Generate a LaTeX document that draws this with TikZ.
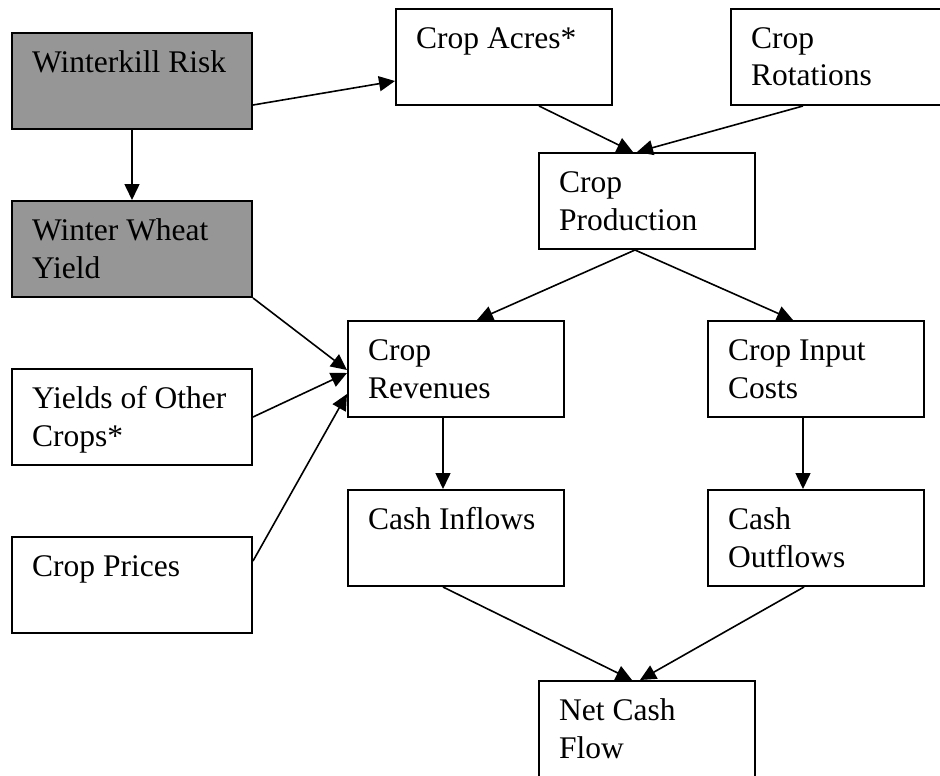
\documentclass[tikz,border=0pt]{standalone}
\usepackage{fontspec}
\setmainfont{Liberation Serif}
\usetikzlibrary{arrows.meta}
\definecolor{boxgray}{RGB}{150,150,150}
\newcommand{\mytwo}[2]{\begin{tabular}[t]{@{}l@{}}#1\\#2\end{tabular}}
\begin{document}
\begin{tikzpicture}[x=1pt,y=-1pt,
  box/.style={draw, line width=2pt, inner sep=0pt, anchor=north west,
              minimum height=96pt, minimum width=216pt},
  wide/.style={minimum width=240pt},
  shaded/.style={fill=boxgray},
  lbl/.style={anchor=base west, inner sep=0pt, font=\fontsize{31.5}{37.5}\selectfont},
  arr/.style={line width=1.6pt, -{Triangle[length=16pt,width=15pt]}}]
\useasboundingbox (0,0) rectangle (940,776);
\clip (0,0) rectangle (940,776);
% boxes
\node[box, wide, shaded] (wr) at (11,32) {};
\node[box] (ca) at (395,8) {};
\node[box] (cr) at (730,8) {};
\node[box] (cp) at (538,152) {};
\node[box, wide, shaded] (ww) at (11,200) {};
\node[box] (rv) at (347,320) {};
\node[box] (ic) at (707,320) {};
\node[box, wide] (yo) at (11,368) {};
\node[box, wide] (pr) at (11,536) {};
\node[box] (ci) at (347,489) {};
\node[box] (co) at (707,489) {};
\node[box, minimum height=100pt] (nc) at (538,680) {};
% labels
\node[lbl] (wrt) at ([shift={(21,40.5)}]wr.north west) {Winterkill Risk};
\node[lbl] (cat) at ([shift={(21,40.5)}]ca.north west) {Crop Acres*};
\node[lbl] (crt) at ([shift={(21,40.5)}]cr.north west) {\mytwo{Crop}{Rotations}};
\node[lbl] (cpt) at ([shift={(21,40.5)}]cp.north west) {\mytwo{Crop}{Production}};
\node[lbl] (wwt) at ([shift={(21,40.5)}]ww.north west) {\mytwo{Winter Wheat}{Yield}};
\node[lbl] (rvt) at ([shift={(21,40.5)}]rv.north west) {\mytwo{Crop}{Revenues}};
\node[lbl] (ict) at ([shift={(21,40.5)}]ic.north west) {\mytwo{Crop Input}{Costs}};
\node[lbl] (yot) at ([shift={(21,40.5)}]yo.north west) {\mytwo{Yields of Other}{Crops*}};
\node[lbl] (prt) at ([shift={(21,40.5)}]pr.north west) {Crop Prices};
\node[lbl] (cit) at ([shift={(21,40.5)}]ci.north west) {Cash Inflows};
\node[lbl] (cot) at ([shift={(21,40.5)}]co.north west) {\mytwo{Cash}{Outflows}};
\node[lbl] (nct) at ([shift={(21,40.5)}]nc.north west) {\mytwo{Net Cash}{Flow}};
% connectors
\draw[arr] ([shift={(0,24)}]wr.east) -- ([shift={(0,24)}]ca.west);
\draw[arr] (wr.south) -- (ww.north);
\draw[arr] ([shift={(144,0)}]ca.south west) -- ([shift={(95,0)}]cp.north west);
\draw[arr] ([shift={(73,0)}]cr.south west) -- ([shift={(99,0)}]cp.north west);
\draw[arr] ([shift={(97,0)}]cp.south west) -- ([shift={(130,0)}]rv.north west);
\draw[arr] ([shift={(97,0)}]cp.south west) -- ([shift={(86,0)}]ic.north west);
\draw[arr] (ww.south east) -- ([shift={(0,1)}]rv.west);
\draw[arr] (yo.east) -- ([shift={(0,4)}]rv.west);
\draw[arr] ([shift={(0,-24)}]pr.east) -- ([shift={(0,25)}]rv.west);
\draw[arr] ([shift={(96,0)}]rv.south west) -- ([shift={(96,0)}]ci.north west);
\draw[arr] ([shift={(96,0)}]ic.south west) -- ([shift={(96,0)}]co.north west);
\draw[arr] ([shift={(96,0)}]ci.south west) -- ([shift={(94,0)}]nc.north west);
\draw[arr] ([shift={(97,0)}]co.south west) -- ([shift={(102,0)}]nc.north west);
\end{tikzpicture}
\end{document}
